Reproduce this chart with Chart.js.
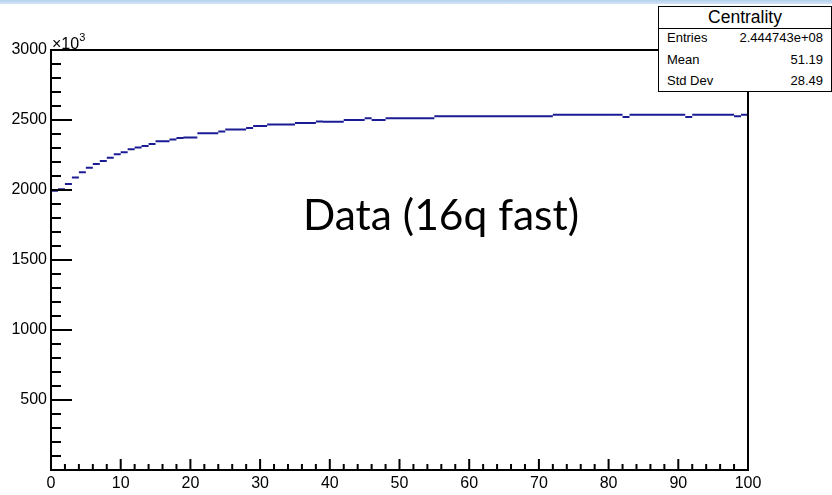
<!DOCTYPE html>
<html>
<head>
<meta charset="utf-8">
<title>Centrality</title>
<script src="https://cdn.jsdelivr.net/npm/chart.js@4.4.1/dist/chart.umd.min.js"></script>
<style>
  body { margin: 0; background: #fff; }
  #wrap { position: relative; width: 832px; height: 495px; overflow: hidden;
          font-family: "Liberation Sans", Arial, Helvetica, sans-serif; color: #000; }
  #topbar { position: absolute; left: 0; top: 0; width: 832px; height: 4px;
            background: linear-gradient(to bottom, #b3d0ec, #d4e5f5); }
  #stats { position: absolute; left: 658px; top: 6px; width: 172px; height: 84px;
           border: 1px solid #000; background: #fff; }
  #stats .title { height: 21px; border-bottom: 1px solid #000; text-align: center;
                  font-size: 17.5px; line-height: 21px; }
  #stats .row { position: relative; height: 21.5px; font-size: 13px; line-height: 18px; }
  #stats .row span.k { position: absolute; left: 8px; }
  #stats .row span.v { position: absolute; right: 8px; }
  #expo { position: absolute; left: 52px; top: 33px; font-size: 16px; }
  #expo sup { font-size: 11px; position: relative; top: -2px; }
  #label { position: absolute; left: 303px; top: 188px; font-family: Lato, "Open Sans", sans-serif;
           font-size: 42.5px; white-space: nowrap; }
</style>
</head>
<body>
<div id="wrap">
  <canvas id="hist" width="832" height="495"></canvas>
  <div id="topbar"></div>
  <div id="expo">&times;10<sup>3</sup></div>
  <div id="label">Data (16q fast)</div>
  <div id="stats">
    <div class="title">Centrality</div>
    <div class="row"><span class="k">Entries</span><span class="v">2.444743e+08</span></div>
    <div class="row"><span class="k">Mean</span><span class="v">51.19</span></div>
    <div class="row"><span class="k">Std Dev</span><span class="v">28.49</span></div>
  </div>
</div>
<script>
// centrality histogram, 100 bins of width 1, counts in units of 10^3
const xMin = 0, xMax = 100, binWidth = 1;
const yMin = 0, yMax = 3000;
const xMajor = 10, xMinor = 2;
const yMajor = 500, yMinor = 100;

const counts = [
  1995, 2005, 2043, 2089, 2127, 2159, 2185, 2207, 2231, 2255,
  2269, 2291, 2303, 2315, 2329, 2349, 2349, 2360, 2372, 2375,
  2375, 2406, 2406, 2406, 2418, 2432, 2432, 2432, 2442, 2457,
  2457, 2468, 2468, 2468, 2468, 2478, 2478, 2478, 2490, 2488,
  2488, 2488, 2500, 2500, 2500, 2512, 2500, 2500, 2512, 2512,
  2512, 2512, 2512, 2512, 2512, 2526, 2526, 2526, 2526, 2526,
  2526, 2526, 2526, 2526, 2526, 2526, 2526, 2526, 2526, 2526,
  2526, 2526, 2538, 2538, 2538, 2538, 2538, 2538, 2538, 2538,
  2538, 2538, 2521, 2538, 2538, 2538, 2538, 2538, 2538, 2538,
  2538, 2521, 2538, 2538, 2538, 2538, 2538, 2538, 2526, 2538
];

// one horizontal segment per bin, broken by a null point
const steps = [];
counts.forEach((c, i) => {
  const lo = xMin + i * binWidth;
  steps.push({x: lo, y: c}, {x: lo + binWidth, y: c}, {x: lo + binWidth, y: null});
});

// frame plus inward ticks, drawn the way ROOT does it
const rootAxes = {
  id: 'rootAxes',
  afterDatasetsDraw(chart) {
    const {ctx, chartArea: a, scales: {x, y}} = chart;
    ctx.save();
    ctx.strokeStyle = '#000';
    ctx.lineWidth = 2;
    ctx.strokeRect(a.left, a.top, a.right - a.left, a.bottom - a.top);
    ctx.beginPath();
    for (let v = yMin + yMinor; v < yMax; v += yMinor) {
      const py = y.getPixelForValue(v);
      const len = v % yMajor === 0 ? 21 : 10;
      ctx.moveTo(a.left, py);
      ctx.lineTo(a.left + len, py);
    }
    for (let v = xMin + xMinor; v < xMax; v += xMinor) {
      const px = x.getPixelForValue(v);
      const len = v % xMajor === 0 ? 11 : 6;
      ctx.moveTo(px, a.bottom);
      ctx.lineTo(px, a.bottom - len);
    }
    ctx.stroke();
    ctx.restore();
  }
};

const tickFont = {family: '"Liberation Sans", Arial, sans-serif', size: 16};

new Chart(document.getElementById('hist'), {
  type: 'line',
  data: {
    datasets: [{
      label: 'Centrality',
      data: steps,
      borderColor: '#1b1b96',
      borderWidth: 2,
      pointRadius: 0,
      spanGaps: false,
      fill: false
    }]
  },
  options: {
    responsive: false,
    animation: false,
    layout: {padding: {top: 50, right: 84, left: 0, bottom: 0}},
    plugins: {legend: {display: false}, tooltip: {enabled: false}},
    scales: {
      x: {
        type: 'linear', min: xMin, max: xMax,
        grid: {display: false, drawTicks: false},
        border: {display: false},
        ticks: {stepSize: xMajor, color: '#000', font: tickFont, padding: 4, maxRotation: 0},
        afterFit(s) { s.height = 25; }
      },
      y: {
        type: 'linear', min: yMin, max: yMax,
        grid: {display: false, drawTicks: false},
        border: {display: false},
        ticks: {stepSize: yMajor, color: '#000', font: tickFont, padding: 4,
                callback: v => v === 0 ? '' : v},
        afterFit(s) { s.width = 51; }
      }
    }
  },
  plugins: [rootAxes]
});
</script>
</body>
</html>
